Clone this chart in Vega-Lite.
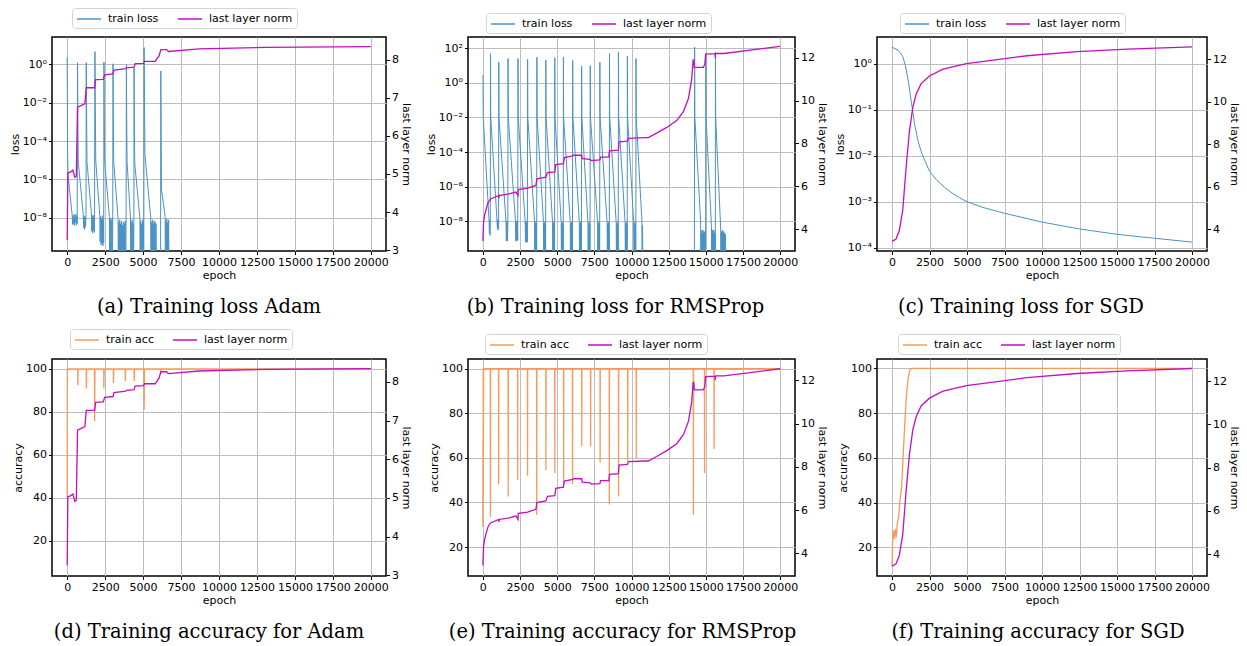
{
"$schema": "https://vega.github.io/schema/vega-lite/v6.json",
"padding": {"left": 8, "top": 6, "right": 2, "bottom": 2},
"background": "#ffffff",
"config": {
 "font": "DejaVu Sans",
 "view": {"stroke": "#000000", "strokeWidth": 1.5},
 "axis": {"labelFont": "DejaVu Sans", "labelFontSize": 11, "labelColor": "#000000", "titleFont": "DejaVu Sans", "titleFontSize": 11, "titleFontWeight": "normal", "titleColor": "#000000", "tickColor": "#000000", "tickSize": 3.5, "tickWidth": 1, "domain": false, "gridColor": "#bdbdbd", "gridWidth": 1, "labelPadding": 2, "titlePadding": 2, "labelOverlap": false, "labelFlush": false},
 "legend": {"symbolType": "M-2,0H2", "symbolSize": 144, "symbolOffset": 6, "symbolStrokeWidth": 1.5, "labelFont": "DejaVu Sans", "labelFontSize": 11, "labelColor": "#000000", "strokeColor": "#d4d4d4", "fillColor": "#ffffff", "padding": 4, "cornerRadius": 3, "columnPadding": 16, "labelOffset": 12, "direction": "horizontal"},
 "title": {"font": "DejaVu Serif", "fontSize": 19.5, "fontWeight": "normal", "color": "#000000", "orient": "bottom", "anchor": "middle", "offset": 17}
},
"datasets": {
 "lossA": [
  {"epoch":0,"loss":2.3},{"epoch":30,"loss":2e-5},{"epoch":60,"loss":1.6e-6},{"epoch":330,"loss":1.4e-8},
  {"epoch":360,"loss":4.5e-9},{"epoch":390,"loss":1.3e-8},{"epoch":420,"loss":5e-9},{"epoch":450,"loss":1.5e-8},{"epoch":480,"loss":4e-9},{"epoch":510,"loss":1.1e-8},{"epoch":540,"loss":6e-9},{"epoch":570,"loss":1.6e-8},{"epoch":600,"loss":4.2e-9},{"epoch":630,"loss":1.2e-8},{"epoch":660,"loss":5e-9},
  {"epoch":683,"loss":1.2},{"epoch":705,"loss":2e-3},{"epoch":730,"loss":8e-6},{"epoch":1060,"loss":1.5e-8},
  {"epoch":1090,"loss":3e-9},{"epoch":1120,"loss":1.3e-8},{"epoch":1150,"loss":2.5e-9},{"epoch":1180,"loss":1.1e-8},{"epoch":1210,"loss":3.5e-9},{"epoch":1240,"loss":1.4e-8},
  {"epoch":1256,"loss":1.2},{"epoch":1280,"loss":2e-3},{"epoch":1305,"loss":8e-6},{"epoch":1600,"loss":1.6e-8},
  {"epoch":1620,"loss":2e-9},{"epoch":1650,"loss":1.2e-8},{"epoch":1680,"loss":1.6e-9},{"epoch":1710,"loss":1.4e-8},{"epoch":1740,"loss":2.2e-9},{"epoch":1770,"loss":1e-8},{"epoch":1800,"loss":1.8e-9},
  {"epoch":1829,"loss":4.5},{"epoch":1850,"loss":1e-2},{"epoch":1880,"loss":1e-5},{"epoch":2150,"loss":1.3e-8},
  {"epoch":2170,"loss":6e-10},{"epoch":2200,"loss":1.2e-8},{"epoch":2230,"loss":4e-10},{"epoch":2260,"loss":9e-9},{"epoch":2290,"loss":5e-10},{"epoch":2320,"loss":1.3e-8},{"epoch":2350,"loss":3.5e-10},{"epoch":2380,"loss":8e-9},{"epoch":2405,"loss":5e-10},
  {"epoch":2423,"loss":1.3},{"epoch":2445,"loss":2e-3},{"epoch":2470,"loss":8e-6},{"epoch":2780,"loss":1.2e-8},
  {"epoch":2800,"loss":1e-11},{"epoch":2830,"loss":9e-9},{"epoch":2860,"loss":1e-11},{"epoch":2890,"loss":7e-9},{"epoch":2920,"loss":1e-11},{"epoch":2950,"loss":1e-8},{"epoch":2980,"loss":1e-11},{"epoch":3000,"loss":6e-9},
  {"epoch":3018,"loss":1.05},{"epoch":3040,"loss":2e-3},{"epoch":3065,"loss":8e-6},{"epoch":3350,"loss":1e-8},
  {"epoch":3370,"loss":1e-11},{"epoch":3400,"loss":6e-9},{"epoch":3430,"loss":1e-11},{"epoch":3460,"loss":8e-9},{"epoch":3490,"loss":1e-11},{"epoch":3520,"loss":5e-9},{"epoch":3550,"loss":1e-11},{"epoch":3580,"loss":7e-9},{"epoch":3610,"loss":1e-11},{"epoch":3640,"loss":4e-9},{"epoch":3670,"loss":1e-11},{"epoch":3700,"loss":6e-9},{"epoch":3730,"loss":1e-11},{"epoch":3760,"loss":5e-9},{"epoch":3790,"loss":1e-11},{"epoch":3820,"loss":7e-9},{"epoch":3850,"loss":1e-11},{"epoch":3880,"loss":5e-9},
  {"epoch":3900,"loss":0.95},{"epoch":3920,"loss":2e-3},{"epoch":3945,"loss":8e-6},{"epoch":4170,"loss":1e-8},
  {"epoch":4190,"loss":1e-11},{"epoch":4220,"loss":6e-9},{"epoch":4250,"loss":1e-11},{"epoch":4280,"loss":8e-9},{"epoch":4310,"loss":1e-11},{"epoch":4340,"loss":5e-9},{"epoch":4370,"loss":1e-11},{"epoch":4395,"loss":6e-9},
  {"epoch":4406,"loss":0.63},{"epoch":4425,"loss":1.5e-3},{"epoch":4450,"loss":7e-6},{"epoch":4790,"loss":1e-8},
  {"epoch":4810,"loss":1e-11},{"epoch":4840,"loss":7e-9},{"epoch":4870,"loss":1e-11},{"epoch":4900,"loss":5e-9},{"epoch":4930,"loss":1e-11},{"epoch":4960,"loss":8e-9},{"epoch":4990,"loss":1e-11},{"epoch":5020,"loss":6e-9},{"epoch":5045,"loss":1e-11},
  {"epoch":5067,"loss":7.4},{"epoch":5090,"loss":2e-2},{"epoch":5120,"loss":2e-5},{"epoch":5500,"loss":1.1e-8},
  {"epoch":5520,"loss":1e-11},{"epoch":5550,"loss":6e-9},{"epoch":5580,"loss":1e-11},{"epoch":5610,"loss":8e-9},{"epoch":5640,"loss":1e-11},{"epoch":5670,"loss":5e-9},{"epoch":5700,"loss":1e-11},{"epoch":5730,"loss":7e-9},{"epoch":5760,"loss":1e-11},{"epoch":5790,"loss":6e-9},{"epoch":5820,"loss":1e-11},{"epoch":5850,"loss":5e-9},{"epoch":5880,"loss":1e-11},{"epoch":6150,"loss":1e-11},
  {"epoch":6168,"loss":0.44},{"epoch":6185,"loss":1e-3},{"epoch":6210,"loss":3e-7},{"epoch":6450,"loss":1.2e-8},
  {"epoch":6470,"loss":1e-11},{"epoch":6500,"loss":7e-9},{"epoch":6530,"loss":1e-11},{"epoch":6560,"loss":9e-9},{"epoch":6590,"loss":1e-11},{"epoch":6620,"loss":6e-9},{"epoch":6650,"loss":1e-11},{"epoch":6680,"loss":8e-9},{"epoch":6710,"loss":1e-11}
 ],
 "normA": [
  {"epoch":0,"norm":3.26},{"epoch":44,"norm":5.03},{"epoch":220,"norm":5.05},{"epoch":375,"norm":5.1},{"epoch":507,"norm":4.91},{"epoch":600,"norm":4.94},{"epoch":683,"norm":6.75},{"epoch":1168,"norm":6.84},{"epoch":1256,"norm":7.26},{"epoch":1806,"norm":7.26},{"epoch":1873,"norm":7.47},{"epoch":2379,"norm":7.48},{"epoch":2467,"norm":7.6},{"epoch":3018,"norm":7.62},{"epoch":3084,"norm":7.72},{"epoch":3855,"norm":7.76},{"epoch":3900,"norm":7.78},{"epoch":4406,"norm":7.8},{"epoch":4472,"norm":7.89},{"epoch":5023,"norm":7.9},{"epoch":5089,"norm":7.95},{"epoch":5794,"norm":7.95},{"epoch":6058,"norm":8.1},{"epoch":6168,"norm":8.26},{"epoch":6543,"norm":8.26},{"epoch":6675,"norm":8.21},{"epoch":8700,"norm":8.28},{"epoch":13100,"norm":8.32},{"epoch":20000,"norm":8.34}
 ],
 "lossB": [
  {"epoch":0,"loss":2.8},{"epoch":10,"loss":1.5},{"epoch":25,"loss":1e-2},{"epoch":420,"loss":1e-8},{"epoch":440,"loss":2e-9},{"epoch":460,"loss":1.2e-8},{"epoch":480,"loss":1.5e-9},{"epoch":500,"loss":1e-8},
  {"epoch":513,"loss":49},{"epoch":530,"loss":1e-2},{"epoch":960,"loss":8e-9},{"epoch":980,"loss":4e-9},{"epoch":1000,"loss":1.2e-8},{"epoch":1020,"loss":3e-9},{"epoch":1040,"loss":1e-8},{"epoch":1058,"loss":4e-9},
  {"epoch":1070,"loss":16},{"epoch":1085,"loss":1e-2},{"epoch":1560,"loss":8e-9},{"epoch":1580,"loss":7e-10},{"epoch":1600,"loss":1e-8},{"epoch":1620,"loss":8e-10},{"epoch":1640,"loss":9e-9},{"epoch":1660,"loss":7e-10},{"epoch":1680,"loss":1e-8},
  {"epoch":1695,"loss":26},{"epoch":1710,"loss":1e-2},{"epoch":2200,"loss":8e-9},{"epoch":2220,"loss":7e-10},{"epoch":2240,"loss":1e-8},{"epoch":2260,"loss":8e-10},{"epoch":2280,"loss":9e-9},{"epoch":2300,"loss":7e-10},{"epoch":2320,"loss":1e-8},{"epoch":2345,"loss":8e-10},
  {"epoch":2364,"loss":26},{"epoch":2380,"loss":1e-2},{"epoch":2850,"loss":8e-9},{"epoch":2870,"loss":6e-10},{"epoch":2890,"loss":1e-8},{"epoch":2910,"loss":7e-10},{"epoch":2930,"loss":9e-9},{"epoch":2950,"loss":6e-10},{"epoch":2970,"loss":1e-8},{"epoch":2995,"loss":6e-10},
  {"epoch":3010,"loss":23},{"epoch":3025,"loss":1e-2},{"epoch":3480,"loss":8e-9},{"epoch":3500,"loss":1e-11},{"epoch":3520,"loss":9e-9},{"epoch":3540,"loss":1e-11},{"epoch":3560,"loss":7e-9},{"epoch":3580,"loss":1e-11},{"epoch":3600,"loss":8e-9},{"epoch":3620,"loss":1e-11},
  {"epoch":3635,"loss":31},{"epoch":3650,"loss":1e-2},{"epoch":4080,"loss":8e-9},{"epoch":4100,"loss":1e-11},{"epoch":4120,"loss":7e-9},{"epoch":4140,"loss":1e-11},{"epoch":4160,"loss":9e-9},{"epoch":4180,"loss":1e-11},{"epoch":4200,"loss":6e-9},{"epoch":4222,"loss":1e-11},
  {"epoch":4237,"loss":21},{"epoch":4252,"loss":1e-2},{"epoch":4690,"loss":8e-9},{"epoch":4710,"loss":1e-11},{"epoch":4730,"loss":7e-9},{"epoch":4750,"loss":1e-11},{"epoch":4770,"loss":9e-9},{"epoch":4790,"loss":1e-11},{"epoch":4810,"loss":6e-9},{"epoch":4825,"loss":1e-11},
  {"epoch":4839,"loss":29},{"epoch":4855,"loss":1e-2},{"epoch":5270,"loss":8e-9},{"epoch":5290,"loss":1e-11},{"epoch":5310,"loss":7e-9},{"epoch":5330,"loss":1e-11},{"epoch":5350,"loss":9e-9},{"epoch":5370,"loss":1e-11},{"epoch":5390,"loss":6e-9},{"epoch":5405,"loss":1e-11},
  {"epoch":5419,"loss":31},{"epoch":5435,"loss":1e-2},{"epoch":5880,"loss":8e-9},{"epoch":5900,"loss":1e-11},{"epoch":5920,"loss":7e-9},{"epoch":5940,"loss":1e-11},{"epoch":5960,"loss":9e-9},{"epoch":5980,"loss":1e-11},{"epoch":6000,"loss":6e-9},{"epoch":6028,"loss":1e-11},
  {"epoch":6043,"loss":20},{"epoch":6058,"loss":1e-2},{"epoch":6490,"loss":8e-9},{"epoch":6510,"loss":1e-11},{"epoch":6530,"loss":7e-9},{"epoch":6550,"loss":1e-11},{"epoch":6570,"loss":9e-9},{"epoch":6590,"loss":1e-11},{"epoch":6610,"loss":6e-9},{"epoch":6630,"loss":1e-11},
  {"epoch":6645,"loss":9.3},{"epoch":6660,"loss":1e-2},{"epoch":7070,"loss":8e-9},{"epoch":7090,"loss":1e-11},{"epoch":7110,"loss":7e-9},{"epoch":7130,"loss":1e-11},{"epoch":7150,"loss":9e-9},{"epoch":7170,"loss":1e-11},{"epoch":7190,"loss":6e-9},{"epoch":7210,"loss":1e-11},
  {"epoch":7225,"loss":10},{"epoch":7240,"loss":1e-2},{"epoch":7720,"loss":8e-9},{"epoch":7740,"loss":1e-11},{"epoch":7760,"loss":7e-9},{"epoch":7780,"loss":1e-11},{"epoch":7800,"loss":9e-9},{"epoch":7820,"loss":1e-11},{"epoch":7840,"loss":6e-9},{"epoch":7858,"loss":1e-11},
  {"epoch":7872,"loss":16},{"epoch":7888,"loss":1e-2},{"epoch":8360,"loss":8e-9},{"epoch":8380,"loss":1e-11},{"epoch":8400,"loss":7e-9},{"epoch":8420,"loss":1e-11},{"epoch":8440,"loss":9e-9},{"epoch":8460,"loss":1e-11},{"epoch":8480,"loss":6e-9},{"epoch":8505,"loss":1e-11},
  {"epoch":8519,"loss":50},{"epoch":8535,"loss":1e-2},{"epoch":8970,"loss":8e-9},{"epoch":8990,"loss":1e-11},{"epoch":9010,"loss":7e-9},{"epoch":9030,"loss":1e-11},{"epoch":9050,"loss":9e-9},{"epoch":9070,"loss":1e-11},{"epoch":9090,"loss":6e-9},{"epoch":9108,"loss":1e-11},
  {"epoch":9121,"loss":63},{"epoch":9137,"loss":1e-2},{"epoch":9570,"loss":8e-9},{"epoch":9590,"loss":1e-11},{"epoch":9610,"loss":7e-9},{"epoch":9630,"loss":1e-11},{"epoch":9650,"loss":9e-9},{"epoch":9670,"loss":1e-11},{"epoch":9690,"loss":6e-9},{"epoch":9710,"loss":1e-11},
  {"epoch":9723,"loss":35},{"epoch":9738,"loss":1e-2},{"epoch":10150,"loss":8e-9},{"epoch":10170,"loss":1e-11},{"epoch":10190,"loss":7e-9},{"epoch":10210,"loss":1e-11},{"epoch":10230,"loss":9e-9},{"epoch":10250,"loss":1e-11},{"epoch":10270,"loss":6e-9},{"epoch":10290,"loss":1e-11},
  {"epoch":10303,"loss":26},{"epoch":10318,"loss":1e-2},{"epoch":10700,"loss":1e-8},{"epoch":10720,"loss":1e-11},{"epoch":10740,"loss":6e-9},{"epoch":10770,"loss":1e-11},{"epoch":14230,"loss":1e-11},
  {"epoch":14246,"loss":120},{"epoch":14262,"loss":1e-2},{"epoch":14650,"loss":1e-8},{"epoch":14670,"loss":1e-11},{"epoch":14690,"loss":2e-9},{"epoch":14710,"loss":1e-11},{"epoch":14730,"loss":3e-9},{"epoch":14750,"loss":1e-11},{"epoch":14770,"loss":2e-9},{"epoch":14790,"loss":1e-11},{"epoch":14810,"loss":3e-9},{"epoch":14830,"loss":1e-11},{"epoch":14850,"loss":2e-9},{"epoch":14870,"loss":1e-11},{"epoch":14900,"loss":2.5e-9},{"epoch":14930,"loss":1e-11},{"epoch":14960,"loss":2e-9},{"epoch":14985,"loss":1e-11},
  {"epoch":15000,"loss":49},{"epoch":15015,"loss":1e-2},{"epoch":15380,"loss":5e-9},{"epoch":15400,"loss":1e-11},{"epoch":15420,"loss":2e-9},{"epoch":15440,"loss":1e-11},{"epoch":15460,"loss":3e-9},{"epoch":15480,"loss":1e-11},{"epoch":15500,"loss":2e-9},{"epoch":15520,"loss":1e-11},{"epoch":15540,"loss":3e-9},{"epoch":15560,"loss":1e-11},{"epoch":15580,"loss":2e-9},{"epoch":15600,"loss":1e-11},{"epoch":15625,"loss":2e-9},{"epoch":15640,"loss":1e-11},
  {"epoch":15648,"loss":62},{"epoch":15663,"loss":1e-2},{"epoch":16000,"loss":4e-9},{"epoch":16020,"loss":1e-11},{"epoch":16040,"loss":2.5e-9},{"epoch":16060,"loss":1e-11},{"epoch":16080,"loss":2e-9},{"epoch":16100,"loss":1e-11},{"epoch":16120,"loss":3e-9},{"epoch":16140,"loss":1e-11},{"epoch":16160,"loss":2e-9},{"epoch":16180,"loss":1e-11},{"epoch":16200,"loss":2.5e-9},{"epoch":16220,"loss":1e-11},{"epoch":16240,"loss":2e-9},{"epoch":16260,"loss":1e-11},{"epoch":16280,"loss":2e-9},{"epoch":16300,"loss":1e-11},{"epoch":16320,"loss":1.5e-9},{"epoch":16340,"loss":1e-11}
 ],
 "normB": [
  {"epoch":0,"norm":3.45},{"epoch":45,"norm":4.31},{"epoch":112,"norm":4.63},{"epoch":223,"norm":4.94},{"epoch":357,"norm":5.25},{"epoch":513,"norm":5.41},{"epoch":1070,"norm":5.57},{"epoch":1080,"norm":5.45},{"epoch":1090,"norm":5.57},{"epoch":1695,"norm":5.63},{"epoch":2230,"norm":5.73},{"epoch":2364,"norm":5.57},{"epoch":2380,"norm":5.85},{"epoch":3010,"norm":5.91},{"epoch":3568,"norm":6.04},{"epoch":3635,"norm":6.35},{"epoch":4237,"norm":6.43},{"epoch":4348,"norm":6.64},{"epoch":4839,"norm":6.67},{"epoch":4906,"norm":7.01},{"epoch":5419,"norm":7.06},{"epoch":5486,"norm":7.34},{"epoch":6043,"norm":7.42},{"epoch":6110,"norm":7.45},{"epoch":6645,"norm":7.45},{"epoch":6690,"norm":7.29},{"epoch":7225,"norm":7.26},{"epoch":7292,"norm":7.2},{"epoch":7872,"norm":7.23},{"epoch":7917,"norm":7.36},{"epoch":8474,"norm":7.36},{"epoch":8519,"norm":7.65},{"epoch":9121,"norm":7.69},{"epoch":9165,"norm":8.08},{"epoch":9723,"norm":8.11},{"epoch":9790,"norm":8.24},{"epoch":10927,"norm":8.27},{"epoch":11133,"norm":8.27},{"epoch":11693,"norm":8.48},{"epoch":12400,"norm":8.76},{"epoch":13060,"norm":9.08},{"epoch":13500,"norm":9.5},{"epoch":13830,"norm":10.1},{"epoch":14050,"norm":11.0},{"epoch":14150,"norm":11.9},{"epoch":14190,"norm":11.9},{"epoch":14230,"norm":11.55},{"epoch":14830,"norm":11.55},{"epoch":14930,"norm":11.7},{"epoch":14990,"norm":12.17},{"epoch":15620,"norm":12.19},{"epoch":15640,"norm":12.0},{"epoch":15660,"norm":12.2},{"epoch":16218,"norm":12.2},{"epoch":20000,"norm":12.53}
 ],
 "lossC": [
  {"epoch":0,"loss":2.3},{"epoch":400,"loss":2.0},{"epoch":700,"loss":1.5},{"epoch":900,"loss":0.9},{"epoch":1100,"loss":0.4},{"epoch":1300,"loss":0.14},{"epoch":1500,"loss":0.05},{"epoch":1750,"loss":0.02},{"epoch":2000,"loss":0.011},{"epoch":2500,"loss":0.0046},{"epoch":3000,"loss":0.0029},{"epoch":3500,"loss":0.00205},{"epoch":4000,"loss":0.00155},{"epoch":4500,"loss":0.00122},{"epoch":5000,"loss":0.001},{"epoch":6000,"loss":7.6e-4},{"epoch":7500,"loss":5.6e-4},{"epoch":10000,"loss":3.6e-4},{"epoch":12500,"loss":2.55e-4},{"epoch":15000,"loss":1.95e-4},{"epoch":17500,"loss":1.6e-4},{"epoch":20000,"loss":1.32e-4}
 ],
 "normC": [
  {"epoch":0,"norm":3.44},{"epoch":270,"norm":3.55},{"epoch":490,"norm":3.95},{"epoch":715,"norm":4.9},{"epoch":940,"norm":6.9},{"epoch":1160,"norm":8.6},{"epoch":1390,"norm":9.75},{"epoch":1610,"norm":10.35},{"epoch":1940,"norm":10.85},{"epoch":2500,"norm":11.21},{"epoch":3400,"norm":11.53},{"epoch":4960,"norm":11.79},{"epoch":6750,"norm":11.95},{"epoch":9000,"norm":12.16},{"epoch":12340,"norm":12.35},{"epoch":15690,"norm":12.47},{"epoch":20000,"norm":12.58}
 ],
 "accD": [
  {"epoch":0,"acc":40},{"epoch":15,"acc":100},{"epoch":690,"acc":100},{"epoch":700,"acc":92.4},{"epoch":720,"acc":100},{"epoch":1255,"acc":100},{"epoch":1265,"acc":90.9},{"epoch":1285,"acc":100},{"epoch":1798,"acc":100},{"epoch":1808,"acc":75.6},{"epoch":1830,"acc":100},{"epoch":2407,"acc":100},{"epoch":2417,"acc":90.9},{"epoch":2437,"acc":100},{"epoch":3038,"acc":100},{"epoch":3048,"acc":93.4},{"epoch":3068,"acc":100},{"epoch":3820,"acc":100},{"epoch":3830,"acc":94.4},{"epoch":3850,"acc":100},{"epoch":4407,"acc":100},{"epoch":4417,"acc":94.4},{"epoch":4437,"acc":100},{"epoch":5059,"acc":100},{"epoch":5069,"acc":81},{"epoch":5090,"acc":100},{"epoch":6168,"acc":100},{"epoch":6178,"acc":97.7},{"epoch":6195,"acc":100},{"epoch":20000,"acc":100}
 ],
 "accE": [
  {"epoch":0,"acc":29},{"epoch":8,"acc":69},{"epoch":16,"acc":38},{"epoch":25,"acc":100},{"epoch":35,"acc":64},{"epoch":45,"acc":100},
  {"epoch":498,"acc":100},{"epoch":508,"acc":33.5},{"epoch":518,"acc":100},
  {"epoch":1051,"acc":100},{"epoch":1061,"acc":48.1},{"epoch":1071,"acc":100},
  {"epoch":1692,"acc":100},{"epoch":1702,"acc":42.6},{"epoch":1712,"acc":100},
  {"epoch":2333,"acc":100},{"epoch":2343,"acc":50.1},{"epoch":2353,"acc":100},
  {"epoch":2996,"acc":100},{"epoch":3006,"acc":52},{"epoch":3016,"acc":100},
  {"epoch":3614,"acc":100},{"epoch":3624,"acc":34.3},{"epoch":3634,"acc":100},
  {"epoch":4233,"acc":100},{"epoch":4243,"acc":54.4},{"epoch":4253,"acc":100},
  {"epoch":4830,"acc":100},{"epoch":4840,"acc":53.1},{"epoch":4850,"acc":100},
  {"epoch":5427,"acc":100},{"epoch":5437,"acc":48.1},{"epoch":5447,"acc":100},
  {"epoch":6023,"acc":100},{"epoch":6033,"acc":48.1},{"epoch":6043,"acc":100},
  {"epoch":6642,"acc":100},{"epoch":6652,"acc":65.1},{"epoch":6662,"acc":100},
  {"epoch":7239,"acc":100},{"epoch":7249,"acc":65.1},{"epoch":7259,"acc":100},
  {"epoch":7880,"acc":100},{"epoch":7890,"acc":57.9},{"epoch":7900,"acc":100},
  {"epoch":8498,"acc":100},{"epoch":8508,"acc":39.1},{"epoch":8518,"acc":100},
  {"epoch":9117,"acc":100},{"epoch":9127,"acc":42.6},{"epoch":9137,"acc":100},
  {"epoch":9736,"acc":100},{"epoch":9746,"acc":58.6},{"epoch":9756,"acc":100},
  {"epoch":10311,"acc":100},{"epoch":10321,"acc":59.8},{"epoch":10331,"acc":100},
  {"epoch":14156,"acc":100},{"epoch":14166,"acc":34.3},{"epoch":14176,"acc":100},
  {"epoch":14907,"acc":100},{"epoch":14917,"acc":53.1},{"epoch":14927,"acc":100},
  {"epoch":15548,"acc":100},{"epoch":15558,"acc":63.9},{"epoch":15568,"acc":100},
  {"epoch":20000,"acc":100}
 ],
 "accF": [
  {"epoch":0,"acc":11.7},{"epoch":44,"acc":23},{"epoch":88,"acc":27.5},{"epoch":155,"acc":23.8},{"epoch":221,"acc":28.3},{"epoch":288,"acc":24.5},{"epoch":354,"acc":30.5},{"epoch":442,"acc":33.5},{"epoch":531,"acc":41},{"epoch":641,"acc":47},{"epoch":752,"acc":62},{"epoch":863,"acc":77},{"epoch":973,"acc":89},{"epoch":1084,"acc":96},{"epoch":1194,"acc":99.4},{"epoch":1305,"acc":100},{"epoch":20000,"acc":100}
 ]
},
"columns": 3,
"spacing": {"row": 108, "column": 82},
"bounds": "flush",
"resolve": {"scale": {"color": "independent"}, "legend": {"color": "independent"}},
"concat": [
 {
  "width": 334, "height": 214,
  "title": {"text": "(a) Training loss Adam", "dx": -10},
  "layer": [
   {"data": {"name": "lossA"}, "mark": {"type": "line", "clip": true, "strokeWidth": 1},
    "encoding": {
     "x": {"field": "epoch", "type": "quantitative", "scale": {"domain": [-1000, 21000], "nice": false, "zero": false}, "axis": {"title": "epoch", "values": [0,2500,5000,7500,10000,12500,15000,17500,20000], "format": "d", "grid": true}},
     "y": {"field": "loss", "type": "quantitative", "scale": {"type": "log", "domain": [1.9e-10, 26], "nice": false}, "axis": {"title": "loss", "grid": true, "values": [1e-8,1e-6,1e-4,1e-2,1], "labelExpr": "datum.value >= 50 ? '10²' : datum.value >= 0.5 ? '10⁰' : datum.value >= 0.05 ? '10⁻¹' : datum.value >= 0.005 ? '10⁻²' : datum.value >= 0.0005 ? '10⁻³' : datum.value >= 0.00005 ? '10⁻⁴' : datum.value >= 0.0000005 ? '10⁻⁶' : '10⁻⁸'"}},
     "color": {"datum": "train loss", "type": "nominal", "scale": {"domain": ["train loss", "last layer norm"], "range": ["#4a93c4", "#c10fc1"]}, "legend": {"title": null, "orient": "none", "legendX": 20, "legendY": -29}}
    }},
   {"data": {"name": "normA"}, "mark": {"type": "line", "clip": true, "strokeWidth": 1.3},
    "encoding": {
     "x": {"field": "epoch", "type": "quantitative"},
     "y": {"field": "norm", "type": "quantitative", "scale": {"domain": [2.98, 8.59], "nice": false, "zero": false}, "axis": {"title": "last layer norm", "orient": "right", "grid": false, "values": [3,4,5,6,7,8], "format": "d"}},
     "color": {"datum": "last layer norm", "type": "nominal"}
    }}
  ],
  "resolve": {"scale": {"y": "independent"}}
 },
 {
  "width": 327, "height": 214,
  "title": {"text": "(b) Training loss for RMSProp", "dx": -16},
  "layer": [
   {"data": {"name": "lossB"}, "mark": {"type": "line", "clip": true, "strokeWidth": 1},
    "encoding": {
     "x": {"field": "epoch", "type": "quantitative", "scale": {"domain": [-1000, 21000], "nice": false, "zero": false}, "axis": {"title": "epoch", "values": [0,2500,5000,7500,10000,12500,15000,17500,20000], "format": "d", "grid": true}},
     "y": {"field": "loss", "type": "quantitative", "scale": {"type": "log", "domain": [1.86e-10, 457], "nice": false}, "axis": {"title": "loss", "grid": true, "values": [1e-8,1e-6,1e-4,1e-2,1,100], "labelExpr": "datum.value >= 50 ? '10²' : datum.value >= 0.5 ? '10⁰' : datum.value >= 0.05 ? '10⁻¹' : datum.value >= 0.005 ? '10⁻²' : datum.value >= 0.0005 ? '10⁻³' : datum.value >= 0.00005 ? '10⁻⁴' : datum.value >= 0.0000005 ? '10⁻⁶' : '10⁻⁸'"}},
     "color": {"datum": "train loss", "type": "nominal", "scale": {"domain": ["train loss", "last layer norm"], "range": ["#4a93c4", "#c10fc1"]}, "legend": {"title": null, "orient": "none", "legendX": 18, "legendY": -24}}
    }},
   {"data": {"name": "normB"}, "mark": {"type": "line", "clip": true, "strokeWidth": 1.3},
    "encoding": {
     "x": {"field": "epoch", "type": "quantitative"},
     "y": {"field": "norm", "type": "quantitative", "scale": {"domain": [2.98, 12.97], "nice": false, "zero": false}, "axis": {"title": "last layer norm", "orient": "right", "grid": false, "values": [4,6,8,10,12], "format": "d"}},
     "color": {"datum": "last layer norm", "type": "nominal"}
    }}
  ],
  "resolve": {"scale": {"y": "independent"}}
 },
 {
  "width": 330, "height": 214,
  "title": {"text": "(c) Training loss for SGD", "dx": -21},
  "layer": [
   {"data": {"name": "lossC"}, "mark": {"type": "line", "clip": true, "strokeWidth": 1},
    "encoding": {
     "x": {"field": "epoch", "type": "quantitative", "scale": {"domain": [-1000, 21000], "nice": false, "zero": false}, "axis": {"title": "epoch", "values": [0,2500,5000,7500,10000,12500,15000,17500,20000], "format": "d", "grid": true}},
     "y": {"field": "loss", "type": "quantitative", "scale": {"type": "log", "domain": [8.45e-5, 3.85], "nice": false}, "axis": {"title": "loss", "grid": true, "values": [1e-4,1e-3,1e-2,1e-1,1], "labelExpr": "datum.value >= 50 ? '10²' : datum.value >= 0.5 ? '10⁰' : datum.value >= 0.05 ? '10⁻¹' : datum.value >= 0.005 ? '10⁻²' : datum.value >= 0.0005 ? '10⁻³' : datum.value >= 0.00005 ? '10⁻⁴' : datum.value >= 0.0000005 ? '10⁻⁶' : '10⁻⁸'"}},
     "color": {"datum": "train loss", "type": "nominal", "scale": {"domain": ["train loss", "last layer norm"], "range": ["#4a93c4", "#c10fc1"]}, "legend": {"title": null, "orient": "none", "legendX": 23, "legendY": -24}}
    }},
   {"data": {"name": "normC"}, "mark": {"type": "line", "clip": true, "strokeWidth": 1.3},
    "encoding": {
     "x": {"field": "epoch", "type": "quantitative"},
     "y": {"field": "norm", "type": "quantitative", "scale": {"domain": [2.99, 13.04], "nice": false, "zero": false}, "axis": {"title": "last layer norm", "orient": "right", "grid": false, "values": [4,6,8,10,12], "format": "d"}},
     "color": {"datum": "last layer norm", "type": "nominal"}
    }}
  ],
  "resolve": {"scale": {"y": "independent"}}
 },
 {
  "width": 334, "height": 217,
  "title": {"text": "(d) Training accuracy for Adam", "dx": -10},
  "layer": [
   {"data": {"name": "accD"}, "mark": {"type": "line", "clip": true, "strokeWidth": 1.3},
    "encoding": {
     "x": {"field": "epoch", "type": "quantitative", "scale": {"domain": [-1000, 21000], "nice": false, "zero": false}, "axis": {"title": "epoch", "values": [0,2500,5000,7500,10000,12500,15000,17500,20000], "format": "d", "grid": true}},
     "y": {"field": "acc", "type": "quantitative", "scale": {"domain": [3.5, 104.6], "nice": false, "zero": false}, "axis": {"title": "accuracy", "grid": true, "values": [20,40,60,80,100]}},
     "color": {"datum": "train acc", "type": "nominal", "scale": {"domain": ["train acc", "last layer norm"], "range": ["#f99a5b", "#c10fc1"]}, "legend": {"title": null, "orient": "none", "legendX": 18, "legendY": -30}}
    }},
   {"data": {"name": "normA"}, "mark": {"type": "line", "clip": true, "strokeWidth": 1.3},
    "encoding": {
     "x": {"field": "epoch", "type": "quantitative"},
     "y": {"field": "norm", "type": "quantitative", "scale": {"domain": [2.98, 8.59], "nice": false, "zero": false}, "axis": {"title": "last layer norm", "orient": "right", "grid": false, "values": [3,4,5,6,7,8], "format": "d"}},
     "color": {"datum": "last layer norm", "type": "nominal"}
    }}
  ],
  "resolve": {"scale": {"y": "independent"}}
 },
 {
  "width": 327, "height": 217,
  "title": {"text": "(e) Training accuracy for RMSProp", "dx": -9},
  "layer": [
   {"data": {"name": "accE"}, "mark": {"type": "line", "clip": true, "strokeWidth": 1.3},
    "encoding": {
     "x": {"field": "epoch", "type": "quantitative", "scale": {"domain": [-1000, 21000], "nice": false, "zero": false}, "axis": {"title": "epoch", "values": [0,2500,5000,7500,10000,12500,15000,17500,20000], "format": "d", "grid": true}},
     "y": {"field": "acc", "type": "quantitative", "scale": {"domain": [7.0, 104.3], "nice": false, "zero": false}, "axis": {"title": "accuracy", "grid": true, "values": [20,40,60,80,100]}},
     "color": {"datum": "train acc", "type": "nominal", "scale": {"domain": ["train acc", "last layer norm"], "range": ["#f99a5b", "#c10fc1"]}, "legend": {"title": null, "orient": "none", "legendX": 17, "legendY": -25}}
    }},
   {"data": {"name": "normB"}, "mark": {"type": "line", "clip": true, "strokeWidth": 1.3},
    "encoding": {
     "x": {"field": "epoch", "type": "quantitative"},
     "y": {"field": "norm", "type": "quantitative", "scale": {"domain": [2.96, 12.98], "nice": false, "zero": false}, "axis": {"title": "last layer norm", "orient": "right", "grid": false, "values": [4,6,8,10,12], "format": "d"}},
     "color": {"datum": "last layer norm", "type": "nominal"}
    }}
  ],
  "resolve": {"scale": {"y": "independent"}}
 },
 {
  "width": 330, "height": 217,
  "title": {"text": "(f) Training accuracy for SGD", "dx": -4},
  "layer": [
   {"data": {"name": "accF"}, "mark": {"type": "line", "clip": true, "strokeWidth": 1.3},
    "encoding": {
     "x": {"field": "epoch", "type": "quantitative", "scale": {"domain": [-1000, 21000], "nice": false, "zero": false}, "axis": {"title": "epoch", "values": [0,2500,5000,7500,10000,12500,15000,17500,20000], "format": "d", "grid": true}},
     "y": {"field": "acc", "type": "quantitative", "scale": {"domain": [7.2, 104.2], "nice": false, "zero": false}, "axis": {"title": "accuracy", "grid": true, "values": [20,40,60,80,100]}},
     "color": {"datum": "train acc", "type": "nominal", "scale": {"domain": ["train acc", "last layer norm"], "range": ["#f99a5b", "#c10fc1"]}, "legend": {"title": null, "orient": "none", "legendX": 21, "legendY": -25}}
    }},
   {"data": {"name": "normC"}, "mark": {"type": "line", "clip": true, "strokeWidth": 1.3},
    "encoding": {
     "x": {"field": "epoch", "type": "quantitative"},
     "y": {"field": "norm", "type": "quantitative", "scale": {"domain": [2.99, 13.02], "nice": false, "zero": false}, "axis": {"title": "last layer norm", "orient": "right", "grid": false, "values": [4,6,8,10,12], "format": "d"}},
     "color": {"datum": "last layer norm", "type": "nominal"}
    }}
  ],
  "resolve": {"scale": {"y": "independent"}}
 }
]
}
